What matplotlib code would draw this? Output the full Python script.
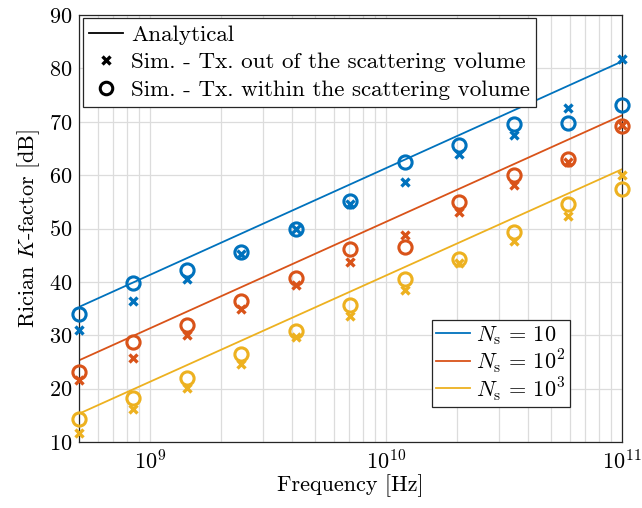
import matplotlib
matplotlib.use('Agg')
import matplotlib.pyplot as plt
from matplotlib.lines import Line2D

plt.rcParams['font.family'] = 'serif'
plt.rcParams['font.serif'] = ['cmr10', 'DejaVu Serif']
plt.rcParams['mathtext.fontset'] = 'cm'
plt.rcParams['axes.formatter.use_mathtext'] = True

# Simulation frequencies [Hz]
freqs = [5.0e8, 8.5e8, 1.43e9, 2.43e9, 4.14e9, 7.04e9,
         1.2e10, 2.04e10, 3.47e10, 5.89e10, 1.0e11]

# Analytical lines (straight on log axis, two end points)
line_freqs = [5.0e8, 1.0e11]
ana_ns10 = [35.3, 81.3]
ana_ns100 = [25.3, 71.2]
ana_ns1000 = [15.3, 61.1]

# Sim - Tx out of the scattering volume (x markers)
out_ns10 = [31.0, 36.4, 40.5, 45.3, 50.0, 54.5, 58.7, 63.9, 67.5, 72.5, 81.7]
out_ns100 = [21.6, 25.7, 30.0, 34.9, 39.5, 43.8, 48.8, 53.1, 58.1, 62.5, 69.4]
out_ns1000 = [11.7, 16.1, 20.2, 24.7, 29.7, 33.7, 38.5, 43.5, 47.7, 52.3, 60.0]

# Sim - Tx within the scattering volume (o markers)
in_ns10 = [34.0, 39.7, 42.3, 45.6, 50.0, 55.2, 62.5, 65.6, 69.6, 69.7, 73.2]
in_ns100 = [23.2, 28.8, 32.0, 36.5, 40.8, 46.1, 46.6, 55.0, 60.0, 63.1, 69.2]
in_ns1000 = [14.3, 18.2, 22.0, 26.4, 30.8, 35.7, 40.5, 44.2, 49.4, 54.5, 57.4]

labels = [r'$N_\mathrm{s}\,=\,10$', r'$N_\mathrm{s}\,=\,10^2$', r'$N_\mathrm{s}\,=\,10^3$']
colors = ['#0072BD', '#D95319', '#EDB120']

fs = 16

fig = plt.figure(figsize=(6.42, 5.08), dpi=100)
ax = fig.add_axes([79 / 642, 66 / 508, 543 / 642, 427 / 508])

series = [
    (ana_ns10, out_ns10, in_ns10),
    (ana_ns100, out_ns100, in_ns100),
    (ana_ns1000, out_ns1000, in_ns1000),
]

color_handles = []
for (ana, out, inn), color, label in zip(series, colors, labels):
    h, = ax.plot(line_freqs, ana, '-', color=color, linewidth=1.3, label=label)
    color_handles.append(h)
    ax.plot(freqs, out, 'x', color=color, markersize=6, markeredgewidth=2.4,
            linestyle='none', clip_on=False, zorder=3)
    ax.plot(freqs, inn, 'o', color=color, markerfacecolor='none', markersize=9.5,
            markeredgewidth=2.2, linestyle='none', clip_on=False, zorder=3)

ax.set_xscale('log')
ax.set_xlim(5e8, 1e11)
ax.set_ylim(10, 90)
ax.set_yticks(range(10, 91, 10))

ax.grid(True, which='major', color='#dcdcdc', linewidth=0.9)
ax.grid(True, which='minor', axis='x', color='#dcdcdc', linewidth=0.9)
ax.set_axisbelow(True)
ax.tick_params(which='both', direction='in', labelsize=fs, length=0, pad=5)
for sp in ax.spines.values():
    sp.set_color('#262626')
    sp.set_linewidth(0.9)

ax.set_xlabel('Frequency [Hz]', fontsize=fs, labelpad=1)
ax.set_ylabel(r'Rician $K$-factor [dB]', fontsize=fs, labelpad=5)

# Marker-type legend
style_handles = [
    Line2D([], [], color='black', linewidth=1.3),
    Line2D([], [], color='black', marker='x', linestyle='none',
           markersize=6, markeredgewidth=2.4),
    Line2D([], [], color='black', marker='o', linestyle='none',
           markerfacecolor='none', markersize=9, markeredgewidth=2.2),
]
style_labels = ['Analytical',
                'Sim. - Tx. out of the scattering volume',
                'Sim. - Tx. within the scattering volume']
leg1 = ax.legend(style_handles, style_labels, loc='upper left', fontsize=16.6,
                 fancybox=False, edgecolor='#262626', framealpha=1,
                 handlelength=1.45, handletextpad=0.35, labelspacing=0.33,
                 borderpad=0.28, borderaxespad=0,
                 bbox_to_anchor=(83 / 642, 1 - 18 / 508),
                 bbox_transform=fig.transFigure)
leg1.get_frame().set_linewidth(0.9)
ax.add_artist(leg1)

leg2 = ax.legend(color_handles, labels, loc='lower right', fontsize=fs,
                 fancybox=False, edgecolor='#262626', framealpha=1,
                 handlelength=1.5, handletextpad=0.3, labelspacing=0.0,
                 borderpad=0.2, borderaxespad=0,
                 bbox_to_anchor=(570 / 642, 101 / 508),
                 bbox_transform=fig.transFigure)
leg2.get_frame().set_linewidth(0.9)

fig.savefig('out.png', dpi=100)
